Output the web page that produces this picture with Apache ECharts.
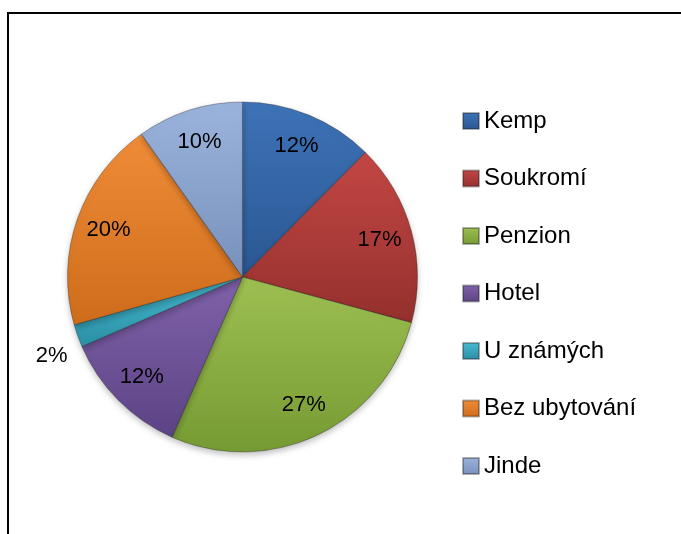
<!DOCTYPE html>
<html>
<head>
<meta charset="utf-8">
<script src="https://cdn.jsdelivr.net/npm/echarts@6/dist/echarts.min.js"></script>
<style>
  html, body { margin: 0; padding: 0; background: #fff; }
  #chart { width: 681px; height: 534px; }
</style>
</head>
<body>
<div id="chart"></div>
<script>
// data (share of answers, %)
var categories = ['Kemp', 'Soukromí', 'Penzion', 'Hotel', 'U známých', 'Bez ubytování', 'Jinde'];
var values = [12.4, 16.8, 27.4, 11.9, 2.1, 19.6, 9.8];

// top / bottom colours of the bevelled slices
var topColors = ['#3E73B8', '#C34744', '#9EC052', '#8062AA', '#48BBD2', '#F08C38', '#9AB4DD'];
var bottomColors = ['#2A5792', '#94302D', '#769A33', '#5C4385', '#2A8EA4', '#CE6C1B', '#7891BC'];

(function () {
  var myChart = echarts.init(document.getElementById('chart'));

  var pieData = categories.map(function (name, i) {
    return {
      name: name,
      value: values[i],
      itemStyle: {
        color: new echarts.graphic.LinearGradient(0, 0, 0, 1, [
          { offset: 0, color: topColors[i] },
          { offset: 1, color: bottomColors[i] }
        ])
      }
    };
  });

  // transparent copy only for the labels (put them at ~0.8 r)
  var labelData = categories.map(function (name, i) {
    var item = { name: name, value: values[i] };
    if (name === 'U známých') {
      item.label = { offset: [-57, 31] }; // small slice: label sits outside
    }
    return item;
  });

  var option = {
    animation: false,
    graphic: [{
      type: 'rect',
      shape: { x: 8, y: 13, width: 700, height: 560 },
      style: { fill: 'none', stroke: '#000', lineWidth: 2 },
      silent: true
    }],
    legend: {
      orient: 'vertical',
      left: 457,
      top: 104,
      itemWidth: 16,
      itemHeight: 16,
      itemGap: 33.5,
      icon: 'rect',
      data: categories,
      textStyle: {
        fontFamily: 'Liberation Sans',
        fontSize: 24,
        color: '#000'
      }
    },
    series: [
      {
        name: 'Ubytování',
        type: 'pie',
        center: [242.5, 277],
        radius: 175,
        startAngle: 90,
        clockwise: true,
        label: { show: false },
        labelLine: { show: false },
        itemStyle: {
          borderColor: 'rgba(30,30,30,0.35)',
          borderWidth: 1,
          shadowBlur: 6,
          shadowOffsetY: 3,
          shadowColor: 'rgba(0,0,0,0.25)'
        },
        emphasis: { disabled: true },
        data: pieData
      },
      {
        name: 'labels',
        type: 'pie',
        center: [242.5, 277],
        radius: [103, 175],
        startAngle: 90,
        clockwise: true,
        silent: true,
        avoidLabelOverlap: false,
        itemStyle: { color: 'rgba(0,0,0,0)' },
        label: {
          show: true,
          position: 'inside',
          fontFamily: 'Liberation Sans',
          fontSize: 22,
          color: '#000',
          formatter: function (p) {
            return Math.round(p.percent) + '%';
          }
        },
        labelLine: { show: false },
        emphasis: { disabled: true },
        data: labelData
      }
    ]
  };

  myChart.setOption(option);
  window.addEventListener('resize', function () {
    myChart.resize();
  });
})();
</script>
</body>
</html>
